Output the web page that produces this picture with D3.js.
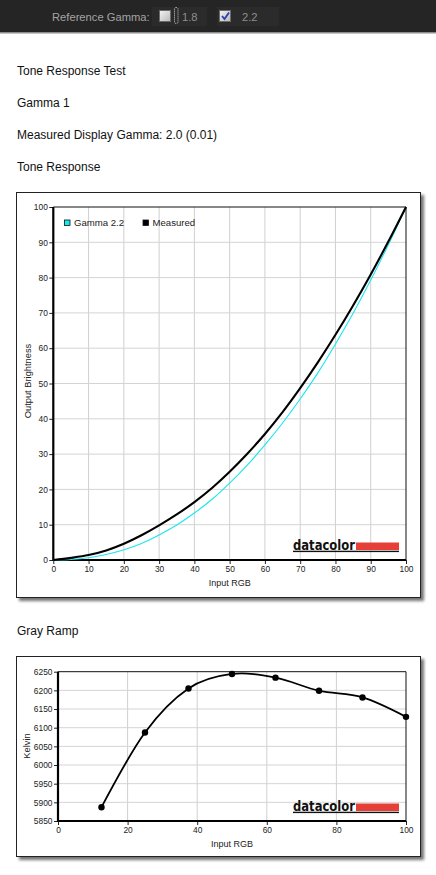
<!DOCTYPE html>
<html>
<head>
<meta charset="utf-8">
<script src="https://cdn.jsdelivr.net/npm/d3@7"></script>
<style>
  body { margin: 0; background: #fff; }
  svg { display: block; font-family: "Liberation Sans", Arial, sans-serif; }
</style>
</head>
<body>
<svg id="page" width="436" height="875"></svg>
<script>
// Tone response data (Input RGB %, Output Brightness %)
const toneInput = [0, 5, 10, 15, 20, 25, 30, 35, 40, 45, 50, 55, 60, 65, 70, 75, 80, 85, 90, 95, 100];
const gammaRef = [0, 0.14, 0.63, 1.55, 2.9, 4.7, 7.1, 9.9, 13.3, 17.2, 21.8, 26.9, 32.6, 38.8, 45.6, 53.0, 61.2, 69.9, 79.3, 89.3, 100];
const measured = [0, 0.6, 1.4, 2.7, 4.6, 7.0, 9.8, 12.9, 16.4, 20.4, 25.0, 30.1, 35.7, 41.9, 48.7, 56.0, 63.8, 72.1, 80.9, 90.2, 100];
const toneTicks = [0, 10, 20, 30, 40, 50, 60, 70, 80, 90, 100];
const toneLegend = ['Gamma 2.2', 'Measured'];

// Gray ramp data (Input RGB %, Kelvin)
const rampInput = [12.5, 25, 37.5, 50, 62.5, 75, 87.5, 100];
const rampKelvin = [5887, 6087, 6205, 6244, 6234, 6199, 6181, 6129];
const rampXTicks = [0, 20, 40, 60, 80, 100];
const kelvinTicks = [5850, 5900, 5950, 6000, 6050, 6100, 6150, 6200, 6250];

const headings = [
  { text: 'Tone Response Test', y: 75 },
  { text: 'Gamma 1', y: 107 },
  { text: 'Measured Display Gamma: 2.0 (0.01)', y: 139 },
  { text: 'Tone Response', y: 171 },
  { text: 'Gray Ramp', y: 635 },
];

const svg = d3.select('#page');

// Drop shadow for the chart frames
const defs = svg.append('defs');
const shadow = defs.append('filter').attr('id', 'shadow')
  .attr('x', '-5%').attr('y', '-5%').attr('width', '115%').attr('height', '115%');
shadow.append('feDropShadow')
  .attr('dx', 3).attr('dy', 3).attr('stdDeviation', 1.8)
  .attr('flood-color', '#000').attr('flood-opacity', 0.55);

const grad = defs.append('linearGradient').attr('id', 'cb')
  .attr('x1', 0).attr('y1', 0).attr('x2', 1).attr('y2', 1);
grad.append('stop').attr('offset', '0%').attr('stop-color', '#f4f4f4');
grad.append('stop').attr('offset', '100%').attr('stop-color', '#b8b8b8');

// Top toolbar
const bar = svg.append('g');
bar.append('rect').attr('width', 436).attr('height', 32).attr('fill', '#252525');
bar.append('rect').attr('x', 152).attr('y', 7).attr('width', 55).attr('height', 19).attr('fill', '#2b2b2b');
bar.append('rect').attr('x', 217).attr('y', 7).attr('width', 62).attr('height', 19).attr('fill', '#2b2b2b');
bar.append('rect').attr('y', 32).attr('width', 436).attr('height', 1.5).attr('fill', '#8c8c8c');
bar.append('text').attr('x', 52).attr('y', 21).attr('font-size', 11.2).attr('fill', '#a4a4a4')
  .text('Reference Gamma:');

const checkboxes = [
  { x: 159, label: '1.8', checked: false },
  { x: 219, label: '2.2', checked: true },
];
checkboxes.forEach((c) => {
  bar.append('rect').attr('x', c.x + 0.5).attr('y', 10.5).attr('width', 11).attr('height', 11)
    .attr('fill', 'url(#cb)').attr('stroke', '#6a6a6a');
  if (c.checked) {
    bar.append('path').attr('d', `M${c.x + 3},16 l2.5,3 l4.5,-6.5`)
      .attr('fill', 'none').attr('stroke', '#2a3fb0').attr('stroke-width', 1.8);
  }
  bar.append('text').attr('x', c.x + 23).attr('y', 21)
    .attr('font-size', 11.2).attr('fill', '#8e8e8e').text(c.label);
});
// focus outline next to the first checkbox
bar.append('rect').attr('x', 174.5).attr('y', 7.5).attr('width', 3.5).attr('height', 16)
  .attr('rx', 1.5).attr('fill', 'none').attr('stroke', '#cfcfcf').attr('stroke-dasharray', '1,1');

// Page headings
svg.selectAll('text.heading')
  .data(headings)
  .join('text')
  .attr('class', 'heading')
  .attr('x', 17)
  .attr('y', (d) => d.y)
  .attr('font-size', 12)
  .attr('fill', '#111')
  .text((d) => d.text);

// Datacolor logo
function drawLogo(g, x, baseline) {
  const logo = g.append('g');
  logo.append('text').attr('x', x).attr('y', baseline)
    .attr('font-family', '"DejaVu Sans", sans-serif').attr('font-weight', 'bold')
    .attr('font-size', 13.5).attr('textLength', 62).attr('lengthAdjust', 'spacingAndGlyphs')
    .attr('fill', '#111').text('datacolor');
  logo.append('rect').attr('x', x + 63).attr('y', baseline - 7.5).attr('width', 43).attr('height', 7.5)
    .attr('fill', '#e63f38');
  logo.append('rect').attr('x', x).attr('y', baseline + 0.7).attr('width', 106).attr('height', 1.4)
    .attr('fill', '#111');
}

// Generic chart frame + axes
function drawChart(opts) {
  const g = svg.append('g');
  g.append('rect')
    .attr('x', opts.frame[0] + 0.5).attr('y', opts.frame[1] + 0.5)
    .attr('width', opts.frame[2]).attr('height', opts.frame[3])
    .attr('fill', '#fff').attr('stroke', '#222').attr('stroke-width', 1)
    .attr('filter', 'url(#shadow)');

  const { x, y } = opts;
  const [x0, x1] = x.range();
  const [y0, y1] = y.range();

  // grid
  g.append('g').selectAll('line').data(opts.xTicks.slice(1, -1)).join('line')
    .attr('x1', (d) => x(d)).attr('x2', (d) => x(d)).attr('y1', y1).attr('y2', y0)
    .attr('stroke', '#d0d0d0').attr('stroke-width', 1);
  g.append('g').selectAll('line').data(opts.yTicks.slice(1, -1)).join('line')
    .attr('y1', (d) => y(d)).attr('y2', (d) => y(d)).attr('x1', x0).attr('x2', x1)
    .attr('stroke', '#d4d4d4').attr('stroke-width', 1);

  // thin top/right border of plot
  g.append('path')
    .attr('d', `M${x0},${y1}H${x1}V${y0}`)
    .attr('fill', 'none').attr('stroke', '#111').attr('stroke-width', 1);

  const xAxis = g.append('g').attr('transform', `translate(0,${y0})`)
    .call(d3.axisBottom(x).tickValues(opts.xTicks).tickSize(4).tickPadding(2)
      .tickFormat(d3.format('d')));
  const yAxis = g.append('g').attr('transform', `translate(${x0},0)`)
    .call(d3.axisLeft(y).tickValues(opts.yTicks).tickSize(4).tickPadding(1.5)
      .tickFormat(d3.format('d')));
  [xAxis, yAxis].forEach((a) => {
    a.select('.domain').remove();
    a.selectAll('text').attr('font-family', '"Liberation Sans", Arial, sans-serif')
      .attr('font-size', 8.4).attr('fill', '#222');
    a.selectAll('line').attr('stroke', '#222');
  });

  // heavy axis lines
  g.append('path')
    .attr('d', `M${x0},${y1}V${y0}H${x1}`)
    .attr('fill', 'none').attr('stroke', '#000').attr('stroke-width', 2.2);

  g.append('text').attr('x', (x0 + x1) / 2).attr('y', opts.xLabelY)
    .attr('text-anchor', 'middle').attr('font-size', 9).attr('fill', '#222')
    .text(opts.xLabel);
  g.append('text')
    .attr('transform', `translate(${opts.yLabelX},${opts.yLabelY}) rotate(-90)`)
    .attr('text-anchor', 'middle').attr('font-size', 9.3).attr('fill', '#222')
    .text(opts.yLabel);

  drawLogo(g, 293, opts.logoBaseline);
  return g;
}

// ---- Tone Response chart
const xTone = d3.scaleLinear().domain([0, 100]).range([53.3, 406]);
const yTone = d3.scaleLinear().domain([0, 100]).range([560, 207]);
const tone = drawChart({
  frame: [16, 192, 404, 405],
  x: xTone, y: yTone,
  xTicks: toneTicks, yTicks: toneTicks,
  xLabel: 'Input RGB', xLabelY: 586,
  yLabel: 'Output Brightness', yLabelX: 30.5, yLabelY: 381,
  logoBaseline: 550,
});

const toneLine = (vals) => d3.line()
  .x((d, i) => xTone(toneInput[i]))
  .y((d) => yTone(d))
  .curve(d3.curveMonotoneX)(vals);

tone.append('path').attr('d', toneLine(gammaRef))
  .attr('fill', 'none').attr('stroke', '#19e6ee').attr('stroke-width', 1.1);
tone.append('path').attr('d', toneLine(measured))
  .attr('fill', 'none').attr('stroke', '#000').attr('stroke-width', 2.1);

const legendColors = ['#16e8f0', '#000'];
const legendX = [64.5, 143];
toneLegend.forEach((name, i) => {
  tone.append('rect').attr('x', legendX[i]).attr('y', 220).attr('width', 5.5).attr('height', 5.5)
    .attr('fill', legendColors[i]).attr('stroke', '#111').attr('stroke-width', 0.8);
  tone.append('text').attr('x', legendX[i] + 9.5).attr('y', 226.2)
    .attr('font-size', 9.6).attr('fill', '#222').text(name);
});

// ---- Gray Ramp chart
const xRamp = d3.scaleLinear().domain([0, 100]).range([58, 406]);
const yRamp = d3.scaleLinear().domain([5850, 6250]).range([821, 671.7]);
const ramp = drawChart({
  frame: [16, 656, 404, 200],
  x: xRamp, y: yRamp,
  xTicks: rampXTicks, yTicks: kelvinTicks,
  xLabel: 'Input RGB', xLabelY: 847,
  yLabel: 'Kelvin', yLabelX: 29.5, yLabelY: 746,
  logoBaseline: 811,
});

const rampLine = d3.line()
  .x((d, i) => xRamp(rampInput[i]))
  .y((d) => yRamp(d))
  .curve(d3.curveCardinal.tension(0));

ramp.append('path').attr('d', rampLine(rampKelvin))
  .attr('fill', 'none').attr('stroke', '#000').attr('stroke-width', 1.8);
ramp.selectAll('circle').data(rampKelvin).join('circle')
  .attr('cx', (d, i) => xRamp(rampInput[i]))
  .attr('cy', (d) => yRamp(d))
  .attr('r', 3.2)
  .attr('fill', '#000');
</script>
</body>
</html>
